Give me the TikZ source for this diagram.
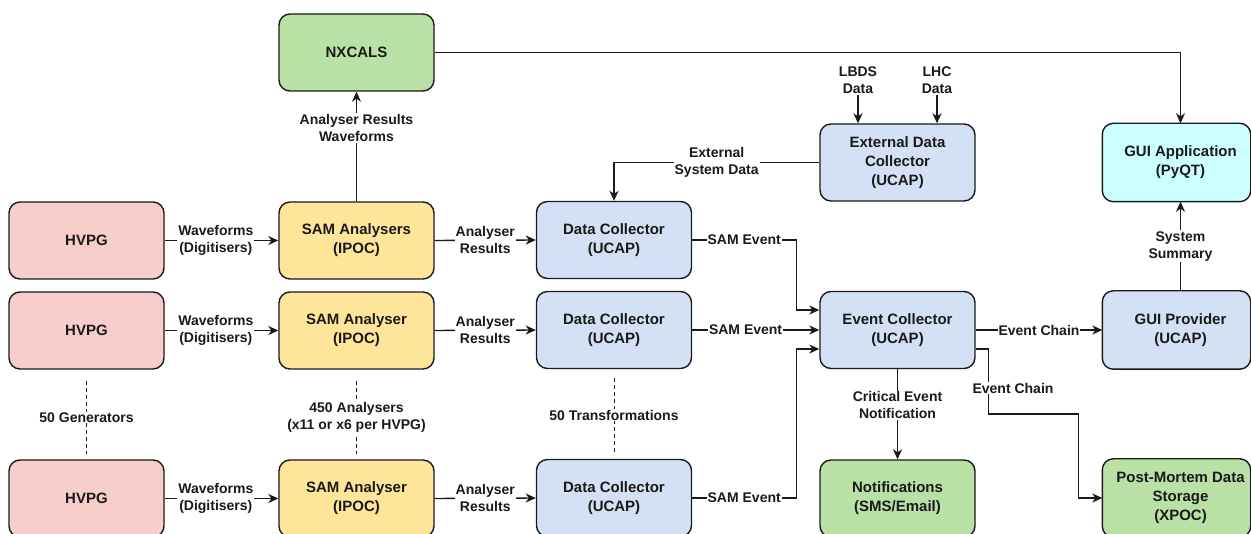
\documentclass[tikz,border=0pt]{standalone}
\usepackage{fontspec}
\setmainfont{Liberation Sans}
\usetikzlibrary{arrows.meta,backgrounds}
\definecolor{hvpgred}{HTML}{F8CECC}
\definecolor{samyellow}{HTML}{FFE599}
\definecolor{ucapblue}{HTML}{D4E1F5}
\definecolor{storegreen}{HTML}{B9E0A5}
\definecolor{guicyan}{HTML}{CCFFFF}
\definecolor{ink}{HTML}{1A1A1A}

\tikzset{
  box/.style={draw=ink, line width=1.4pt, rounded corners=11pt,
    minimum width=155pt, minimum height=77pt, align=center,
    font=\fontsize{15}{19}\selectfont\bfseries, text=ink},
  % right-hand column: text centred as usual, frame a little narrower
  sidebox/.style={box, draw=none},
  frame/.style={draw=ink, line width=1.4pt, rounded corners=11pt},
  lab/.style={fill=white, inner sep=1pt, align=center,
    font=\fontsize{14}{17}\selectfont\bfseries, text=ink},
  link/.style={draw=ink, line width=1.4pt,
    -{Stealth[length=10pt,width=9pt,inset=3pt]}},
  dots/.style={draw=ink, line width=1pt, dash pattern=on 4pt off 3pt},
}

\begin{document}
\begin{tikzpicture}[x=1pt, y=-1pt]
\path[use as bounding box, clip] (0,0) rectangle (1251,534);

% storage and front-end boxes
\node[box, fill=storegreen] (nx) at (356.5,52.5) {NXCALS};
\node[box, fill=ucapblue] (edc) at (897.5,162.5) {External Data\\Collector\\(UCAP)};
\node[sidebox] (ga) at (1180.5,162.5) {GUI Application\\(PyQT)};

% generator rows
\node[box, fill=hvpgred] (hv1) at (86.5,240.5) {HVPG};
\node[box, fill=hvpgred] (hv2) at (86.5,330.5) {HVPG};
\node[box, fill=hvpgred] (hv3) at (86.5,498.5) {HVPG};

\node[box, fill=samyellow] (sa1) at (356.5,240.5) {SAM Analysers\\(IPOC)};
\node[box, fill=samyellow] (sa2) at (356.5,330.5) {SAM Analyser\\(IPOC)};
\node[box, fill=samyellow] (sa3) at (356.5,498.5) {SAM Analyser\\(IPOC)};

\node[box, fill=ucapblue] (dc1) at (614,240) {Data Collector\\(UCAP)};
\node[box, fill=ucapblue] (dc2) at (614,330) {Data Collector\\(UCAP)};
\node[box, fill=ucapblue] (dc3) at (614,498) {Data Collector\\(UCAP)};

\node[box, fill=ucapblue] (ec) at (897.5,330) {Event Collector\\(UCAP)};
\node[sidebox] (gp) at (1180.5,330) {GUI Provider\\(UCAP)};
\node[box, fill=storegreen] (nt) at (897.5,498.5) {Notifications\\(SMS/Email)};
\node[sidebox] (pm) at (1180.5,498) {Post-Mortem Data\\Storage\\(XPOC)};

% page ground and the frames of the right-hand column, behind their text
\begin{scope}[on background layer]
  \fill[white] (0,0) rectangle (1251,534);
  \draw[frame, fill=guicyan] (ga.north west) rectangle ([xshift=-8pt]ga.south east);
  \draw[frame, fill=ucapblue] (gp.north west) rectangle ([xshift=-8pt]gp.south east);
  \draw[frame, fill=storegreen] (pm.north west) rectangle ([xshift=-8pt]pm.south east);
\end{scope}

% waveforms into the analysers
\foreach \i in {1,2,3}{
  \draw[link] (hv\i.east) -- node[lab, pos=0.45] {Waveforms\\(Digitisers)} (sa\i.west);
  \draw[link] (sa\i.east) -- node[lab] {Analyser\\Results} (dc\i.west);
}

% archive path
\draw[link] (sa1.north) -- node[lab, pos=0.67] {Analyser Results\\Waveforms} (nx.south);
\draw[link] (nx.east) -| (ga.north);

% external data
\node[lab] (lbds) at (858,80) {LBDS\\Data};
\node[lab] (lhc) at (937,80) {LHC\\Data};
\draw[link] (lbds.south) -- (lbds.south |- edc.north);
\draw[link] (lhc.south) -- (lhc.south |- edc.north);
\draw[link] (edc.west) -| node[lab, pos=0.25] {External\\System Data} (dc1.north);

% SAM events into the event collector
\draw[link] (dc1.east) -- node[lab] {SAM Event} ++(104,0) |- ([yshift=20pt]ec.west);
\draw[link] (dc2.east) -- node[lab, pos=0.42] {SAM Event} (ec.west);
\draw[link] (dc3.east) -- node[lab] {SAM Event} ++(104,0) |- ([yshift=-19pt]ec.west);

% event chains and notifications
\draw[link] (ec.east) -- node[lab] {Event Chain} (gp.west);
\draw[link] ([yshift=-19pt]ec.east) -- ++(13,0) -- ++(0,65) -- ++(90,0) |- (pm.west);
\node[lab] (ecl) at (1013,388) {Event Chain};
\draw[link] (ec.south) -- node[lab, pos=0.4] {Critical Event\\Notification} (nt.north);
\draw[link] (gp.north) -- node[lab] {System\\Summary} (ga.south);

% multiplicity markers
\draw[dots] ([yshift=-11pt]hv2.south) -- node[lab] {50 Generators} ([yshift=5pt]hv3.north);
\draw[dots] ([yshift=-11pt]sa2.south) -- node[lab] {450 Analysers\\(x11 or x6 per HVPG)} ([yshift=5pt]sa3.north);
\draw[dots] ([yshift=-9pt]dc2.south) -- node[lab] {50 Transformations} ([yshift=7pt]dc3.north);
\end{tikzpicture}
\end{document}
